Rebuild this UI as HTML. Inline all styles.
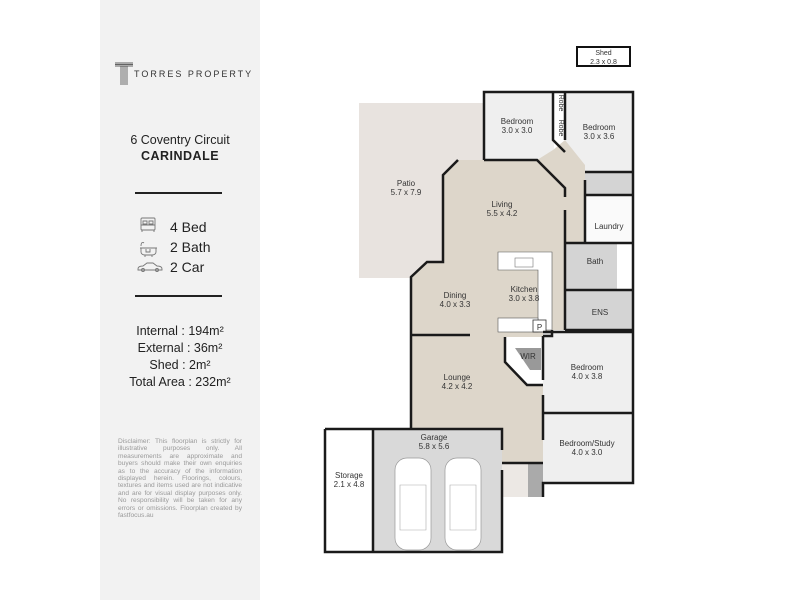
<!DOCTYPE html>
<html><head><meta charset="utf-8"><style>
html,body{margin:0;padding:0;background:#fff;}
body{width:800px;height:600px;position:relative;overflow:hidden;font-family:"Liberation Sans",sans-serif;}
#panel{position:absolute;left:100px;top:0;width:160px;height:600px;background:#f2f2f2;color:#222;}
.c{position:absolute;left:0;width:160px;text-align:center;}
.hr{position:absolute;left:35px;width:87px;height:2px;background:#222;}
.disc{position:absolute;left:18px;top:438px;width:124px;font-size:6.6px;line-height:7.4px;color:#999;text-align:justify;}
</style></head><body>
<div id="panel">
  <svg style="position:absolute;left:14px;top:62px" width="20" height="24" viewBox="0 0 20 24">
    <g fill="none" stroke="#333" stroke-width="0.7">
      <path d="M1 1H19M1 2.5H19M1 4H19"/><path d="M7 4V23M9 4V23M11 4V23M13 4V23"/>
    </g>
  </svg>
  <div style="position:absolute;left:34px;top:69px;font-size:9px;letter-spacing:2px;color:#333;">TORRES PROPERTY</div>
  <div class="c" style="top:133px;font-size:12.5px;">6 Coventry Circuit</div>
  <div class="c" style="top:149px;font-size:12.5px;font-weight:bold;letter-spacing:0.5px;">CARINDALE</div>
  <div class="hr" style="top:192px"></div>
  <svg style="position:absolute;left:35px;top:216px" width="30" height="60" viewBox="0 0 30 60">
    <g fill="none" stroke="#777" stroke-width="0.9">
      <rect x="6" y="2" width="14" height="12" rx="1"/><path d="M6 9H20M8 5h4v3H8zM14 5h4v3h-4zM7 14v2M19 14v2"/>
      <path d="M6 30c0-4 2-4 3-3M5 32H22M6 32v4c0 2 2 3 4 3h7c2 0 4-1 4-3v-4M10 39v2M17 39v2M11 33v3h4v-3"/>
      <path d="M3 53c0-2 2-3 5-3l4-3h6l4 3c3 0 5 1 5 3v1H3z"/><circle cx="8" cy="54" r="1.5"/><circle cx="22" cy="54" r="1.5"/>
    </g>
  </svg>
  <div style="position:absolute;left:70px;top:217px;font-size:14px;line-height:20px;">4 Bed<br>2 Bath<br>2 Car</div>
  <div class="hr" style="top:295px"></div>
  <div class="c" style="top:323px;font-size:12.5px;line-height:17px;">Internal : 194m²<br>External : 36m²<br>Shed : 2m²<br>Total Area : 232m²</div>
  <div class="disc">Disclaimer: This floorplan is strictly for illustrative purposes only. All measurements are approximate and buyers should make their own enquiries as to the accuracy of the information displayed herein. Floorings, colours, textures and items used are not indicative and are for visual display purposes only. No responsibility will be taken for any errors or omissions. Floorplan created by fastfocus.au</div>
</div>

<svg style="position:absolute;left:0;top:0" width="800" height="600" viewBox="0 0 800 600" font-family="Liberation Sans, sans-serif" font-size="8" fill="#333">
  <rect x="359" y="103" width="125" height="175" fill="#e8e3df"/>
  <rect x="484" y="92" width="70" height="68" fill="#efefef"/>
  <rect x="565" y="92" width="68" height="80" fill="#efefef"/>
  <rect x="553" y="92" width="12" height="48" fill="#fff"/>
  <polygon points="458,160 537,160 553,150 565,140 585,165 585,243 565,243 565,330 552,330 543,336 543,463 502,463 502,429 411,429 411,277 427,262 443,262 443,175" fill="#ddd6ca"/>
  <rect x="585" y="172" width="48" height="23" fill="#d4d4d4"/>
  <rect x="585" y="195" width="48" height="48" fill="#fafafa"/>
  <rect x="565" y="243" width="52" height="47" fill="#d4d4d4"/>
  <rect x="617" y="243" width="16" height="47" fill="#fff"/>
  <rect x="565" y="290" width="68" height="40" fill="#d4d4d4"/>
  <rect x="543" y="332" width="90" height="81" fill="#efefef"/>
  <rect x="543" y="413" width="90" height="70" fill="#efefef"/>
  <polygon points="498,252 552,252 552,330 538,330 538,270 498,270" fill="#fff" stroke="#555" stroke-width="0.6"/>
  <rect x="498" y="318" width="40" height="14" fill="#fff" stroke="#555" stroke-width="0.6"/>
  <rect x="515" y="258" width="18" height="9" fill="none" stroke="#777" stroke-width="0.6"/>
  <rect x="533" y="320" width="13" height="12" fill="#fff" stroke="#333" stroke-width="0.8"/>
  <text x="539.5" y="330" font-size="8" text-anchor="middle">P</text>
  <polygon points="505,337 543,337 543,385 527,385 505,362" fill="#fff"/>
  <polygon points="515,348 541,348 541,370 530,370" fill="#999"/>
  <rect x="373" y="429" width="129" height="123" fill="#d9d9d9"/>
  <rect x="325" y="429" width="48" height="123" fill="#fff"/>
  <rect x="502" y="463" width="26" height="34" fill="#ece8e4"/>
  <rect x="528" y="463" width="15" height="34" fill="#aaa"/>
  <g fill="#fff" stroke="#999" stroke-width="0.7">
    <rect x="395" y="458" width="36" height="92" rx="12"/>
    <rect x="445" y="458" width="36" height="92" rx="12"/>
  </g>
  <g fill="none" stroke="#aaa" stroke-width="0.6">
    <path d="M400 485h26v45h-26zM450 485h26v45h-26z"/>
  </g>
  <rect x="577" y="47" width="53" height="19" fill="#fff" stroke="#111" stroke-width="2"/>
  <text x="603.5" y="55" font-size="7" text-anchor="middle">Shed</text>
  <text x="603.5" y="64" font-size="7" text-anchor="middle">2.3 x 0.8</text>
  <g fill="none" stroke="#1a1a1a" stroke-width="2.5">
    <polyline points="484,160 484,92 633,92 633,483 543,483 543,497"/>
    <polyline points="484,160 537,160 565,188 565,197"/>
    <path d="M565,210 V243"/>
    <polyline points="553,92 553,140 565,152"/>
    <path d="M565,92 V140"/>
    <path d="M585,172 H633"/>
    <path d="M585,180 V243 M585,195 H633 M565,243 H633 M565,243 V330 M565,290 H633 M565,330 H633"/>
    <polyline points="552,330 552,336 543,336"/>
    <path d="M543,332 H633 M543,413 H633 M543,336 V380 M543,395 V440"/>
    <polyline points="505,337 505,362 527,385 543,385"/>
    <polyline points="458,160 443,175 443,262 427,262 411,277 411,429"/>
    <path d="M411,335 H470"/>
    <path d="M325,429 H502 V450 M502,470 V552 H373 M373,429 V552 M325,429 V552 H373"/>
    <path d="M502,463 H543"/>
  </g>
  <g text-anchor="middle" font-size="8">
    <text x="517" y="124">Bedroom</text><text x="517" y="133">3.0 x 3.0</text>
    <text x="599" y="130">Bedroom</text><text x="599" y="139">3.0 x 3.6</text>
    <text x="406" y="186">Patio</text><text x="406" y="195">5.7 x 7.9</text>
    <text x="502" y="207">Living</text><text x="502" y="216">5.5 x 4.2</text>
    <text x="609" y="229">Laundry</text>
    <text x="595" y="264">Bath</text>
    <text x="524" y="292">Kitchen</text><text x="524" y="301">3.0 x 3.8</text>
    <text x="455" y="298">Dining</text><text x="455" y="307">4.0 x 3.3</text>
    <text x="600" y="315">ENS</text>
    <text x="528" y="359">WIR</text>
    <text x="587" y="370">Bedroom</text><text x="587" y="379">4.0 x 3.8</text>
    <text x="457" y="380">Lounge</text><text x="457" y="389">4.2 x 4.2</text>
    <text x="587" y="446">Bedroom/Study</text><text x="587" y="455">4.0 x 3.0</text>
    <text x="434" y="440">Garage</text><text x="434" y="449">5.8 x 5.6</text>
    <text x="349" y="478">Storage</text><text x="349" y="487">2.1 x 4.8</text>
  </g>
  <g font-size="7" text-anchor="middle">
    <text x="559" y="103" transform="rotate(90 559 103)">Robe</text>
    <text x="559" y="128" transform="rotate(90 559 128)">Robe</text>
  </g>
</svg>
</body></html>
